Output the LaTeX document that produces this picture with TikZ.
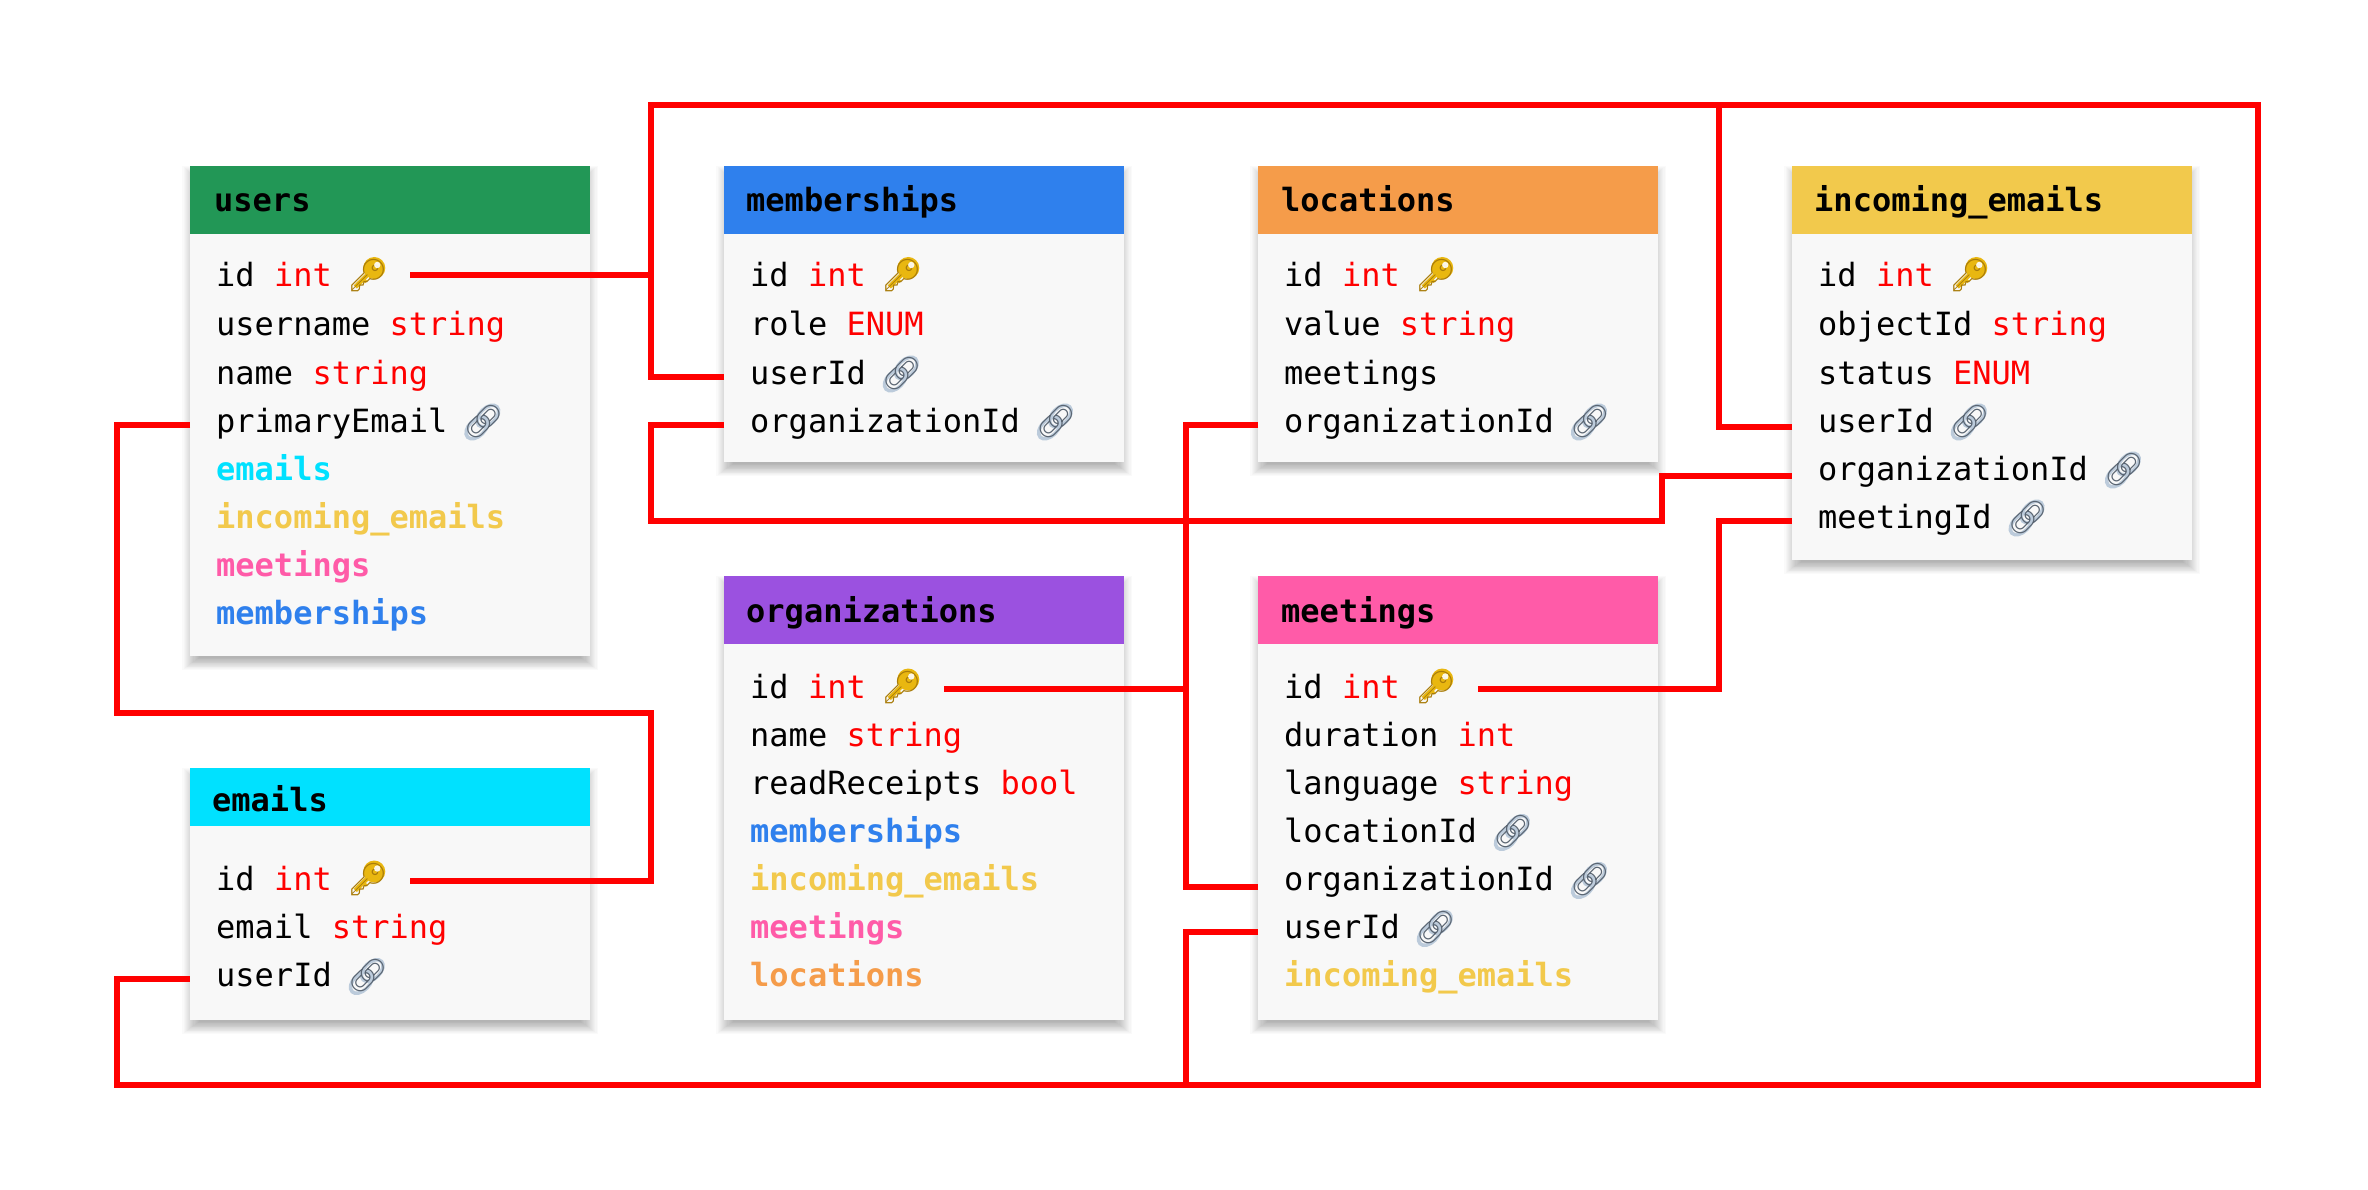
\documentclass[tikz,border=0pt]{standalone}
\usepackage{fontspec}
\setmainfont{DejaVu Sans Mono}
\newfontfamily\emojifont{Noto Emoji}
\usetikzlibrary{calc}
\definecolor{cusers}{HTML}{229756}
\definecolor{cmem}{HTML}{2F80ED}
\definecolor{cloc}{HTML}{F59C4A}
\definecolor{cinc}{HTML}{F2C94C}
\definecolor{corg}{HTML}{9B51E0}
\definecolor{cmeet}{HTML}{FF5BA8}
\definecolor{cem}{HTML}{00E1FF}
\definecolor{cbody}{HTML}{F8F8F8}
\definecolor{ckey}{HTML}{E9B710}
\definecolor{ckeyd}{HTML}{A97C0A}
\definecolor{clink}{HTML}{5A6572}
\definecolor{clinkl}{HTML}{BCCBDB}
\newcommand{\ty}[1]{\textcolor{red}{#1}}
\newcommand{\keysp}{\rule{33pt}{0pt}}
\newcommand{\linksp}{\rule{32pt}{0pt}}
\newcommand{\rel}[2]{\textcolor{#1}{\bfseries #2}}
\newcommand{\shadowbox}[4]{% x1 y1 x2 y2
  \foreach \g in {1,...,16}{
    \fill[black,opacity=.018] (#1+10-\g*1.1,#2+16-\g) rectangle (#3-10+\g*1.1,#4+1+\g*0.8);
  }
}
\tikzset{
  x=1pt,y=-1pt,
  rowtext/.style={anchor=base west,inner xsep=26pt,inner ysep=0pt,text height=32pt,text depth=8pt,font=\fontsize{32}{32}\selectfont},
  rh/.style={text height=#1pt},
  headtext/.style={anchor=base west,inner xsep=24pt,inner ysep=0pt,font=\fontsize{32}{32}\selectfont\bfseries},
  bodybox/.style={fill=cbody,draw=none,anchor=north west,inner sep=0pt,minimum width=400pt},
  headbox/.style={draw=none,anchor=north west,inner sep=0pt,minimum width=400pt},
  conn/.style={draw=red,line width=6pt,line join=miter,line cap=butt},
  keyicon/.pic={
    \draw[ckey,line width=4.5pt] (23,-19) -- (4,0);
    \draw[ckey,line width=3pt] (6,-5) -- (9,-2) (12,-8) -- (15,-5);
    \fill[ckey] (23,-19) circle (11);
    \node[inner sep=0pt,anchor=base west,text=ckeyd,font=\fontsize{32}{32}\selectfont\emojifont] (-g) at (-4,0) {🔑};
    \fill[white,opacity=.9] (26,-22) circle (3.2);
  },
  linkicon/.pic={
    \draw[clinkl,line width=3.5pt,shift={(10,-4)},rotate=45] (0,0) ellipse (13 and 8);
    \draw[clinkl,line width=3.5pt,shift={(21,-16)},rotate=45] (0,0) ellipse (13 and 8);
    \node[inner sep=0pt,anchor=base west,text=clink,font=\fontsize{32}{32}\selectfont\emojifont] (-g) at (-4,0) {🔗};
  },
}
\begin{document}
\begin{tikzpicture}
\useasboundingbox (0,0) rectangle (2368,1190);
\fill[white] (0,0) rectangle (2368,1190);
% shadows
\shadowbox{190}{166}{590}{656}
\shadowbox{724}{166}{1124}{462}
\shadowbox{1258}{166}{1658}{462}
\shadowbox{1792}{166}{2192}{560}
\shadowbox{724}{576}{1124}{1020}
\shadowbox{1258}{576}{1658}{1020}
\shadowbox{190}{768}{590}{1020}
% bodies and headers
\node[bodybox,minimum height=490pt] (usersBody) at (190,166) {};
\node[headbox,fill=cusers,minimum height=68pt] (usersHead) at (190,166) {};
\node[bodybox,minimum height=296pt] (memBody) at (724,166) {};
\node[headbox,fill=cmem,minimum height=68pt] (memHead) at (724,166) {};
\node[bodybox,minimum height=296pt] (locBody) at (1258,166) {};
\node[headbox,fill=cloc,minimum height=68pt] (locHead) at (1258,166) {};
\node[bodybox,minimum height=394pt] (incBody) at (1792,166) {};
\node[headbox,fill=cinc,minimum height=68pt] (incHead) at (1792,166) {};
\node[bodybox,minimum height=444pt] (orgBody) at (724,576) {};
\node[headbox,fill=corg,minimum height=68pt] (orgHead) at (724,576) {};
\node[bodybox,minimum height=444pt] (meetBody) at (1258,576) {};
\node[headbox,fill=cmeet,minimum height=68pt] (meetHead) at (1258,576) {};
\node[bodybox,minimum height=252pt] (emBody) at (190,768) {};
\node[headbox,fill=cem,minimum height=58pt] (emHead) at (190,768) {};
% titles
\node[headtext] (tUsers) at (190,212) {users};
\node[headtext] (tMem) at (722,212) {memberships};
\node[headtext] (tLoc) at (1257,212) {locations};
\node[headtext] (tInc) at (1790,212) {incoming\_emails};
\node[headtext] (tOrg) at (722,622) {organizations};
\node[headtext] (tMeet) at (1257,622) {meetings};
\node[headtext] (tEm) at (188,811) {emails};
% users rows
\node[rowtext] (uid) at (190,287) {id \ty{int} \keysp};
\node[rowtext] (uname) at (190,335) {username \ty{string}};
\node[rowtext] (uname2) at (190,384) {name \ty{string}};
\node[rowtext,rh=22] (umail) at (190,432) {primaryEmail \linksp};
\node[rowtext] (ur1) at (190,480) {\rel{cem}{emails}};
\node[rowtext] (ur2) at (190,528) {\rel{cinc}{incoming\_emails}};
\node[rowtext] (ur3) at (190,576) {\rel{cmeet}{meetings}};
\node[rowtext] (ur4) at (190,624) {\rel{cmem}{memberships}};
% memberships rows
\node[rowtext] (mid) at (724,287) {id \ty{int} \keysp};
\node[rowtext] (mrole) at (724,335) {role \ty{ENUM}};
\node[rowtext,rh=22] (muser) at (724,384) {userId \linksp};
\node[rowtext,rh=22] (morg) at (724,432) {organizationId \linksp};
% locations rows
\node[rowtext] (lid) at (1258,287) {id \ty{int} \keysp};
\node[rowtext] (lval) at (1258,335) {value \ty{string}};
\node[rowtext] (lmeet) at (1258,384) {meetings};
\node[rowtext,rh=22] (lorg) at (1258,432) {organizationId \linksp};
% incoming rows
\node[rowtext] (iid) at (1792,287) {id \ty{int} \keysp};
\node[rowtext] (iobj) at (1792,335) {objectId \ty{string}};
\node[rowtext] (istat) at (1792,384) {status \ty{ENUM}};
\node[rowtext,rh=18] (iuser) at (1792,432) {userId \linksp};
\node[rowtext,rh=16] (iorg) at (1792,480) {organizationId \linksp};
\node[rowtext,rh=22] (imeet) at (1792,528) {meetingId \linksp};
% organizations rows
\node[rowtext,rh=28] (oid) at (724,698.5) {id \ty{int} \keysp};
\node[rowtext] (oname) at (724,746.5) {name \ty{string}};
\node[rowtext] (oread) at (724,794.5) {readReceipts \ty{bool}};
\node[rowtext] (or1) at (724,842.5) {\rel{cmem}{memberships}};
\node[rowtext] (or2) at (724,890.5) {\rel{cinc}{incoming\_emails}};
\node[rowtext] (or3) at (724,938.5) {\rel{cmeet}{meetings}};
\node[rowtext] (or4) at (724,986.5) {\rel{cloc}{locations}};
% meetings rows
\node[rowtext,rh=28] (eid) at (1258,698.5) {id \ty{int} \keysp};
\node[rowtext] (edur) at (1258,746.5) {duration \ty{int}};
\node[rowtext] (elang) at (1258,794.5) {language \ty{string}};
\node[rowtext] (eloc) at (1258,842.5) {locationId \linksp};
\node[rowtext,rh=16] (eorg) at (1258,890.5) {organizationId \linksp};
\node[rowtext,rh=21] (euser) at (1258,938.5) {userId \linksp};
\node[rowtext] (er1) at (1258,986.5) {\rel{cinc}{incoming\_emails}};
% emails rows
\node[rowtext,rh=27] (aid) at (190,890.5) {id \ty{int} \keysp};
\node[rowtext] (amail) at (190,938.5) {email \ty{string}};
\node[rowtext,rh=24] (auser) at (190,986.5) {userId \linksp};
% emoji
\foreach \n in {uid,mid,lid,iid,oid,eid,aid}{
  \pic (\n-k) at ($(\n.base east)+(-59,0)$) {keyicon};
}
\foreach \n in {umail,muser,morg,lorg,iuser,iorg,imeet,eloc,eorg,euser,auser}{
  \pic (\n-l) at ($(\n.base east)+(-58,0)$) {linkicon};
}
% routing coordinates
\coordinate (busL) at (651,0);
\coordinate (busT) at (0,105);
\coordinate (busR) at (2258,0);
\coordinate (busB) at (0,1085);
\coordinate (busM) at (1186,0);
\coordinate (busI) at (1719,0);
\coordinate (busW) at (117,0);
\coordinate (busJ) at (1662,0);
\coordinate (busK) at (0,521);
\coordinate (busN) at (0,713);
% connectors
\draw[conn] (uid.east) -- (uid.east -| busL);
\draw[conn] (muser.west) -| (busL |- busT) -- (busR |- busT) |- (busW |- busB) |- (auser.west);
\draw[conn] (euser.west) -| (busM |- busB);
\draw[conn] (iuser.west) -| (busI |- busT);
\draw[conn] (umail.west) -| (busW |- busN) -- (busL |- busN) |- (aid.east);
\draw[conn] (morg.west) -| (busL |- busK) -- (busJ |- busK) |- (iorg.west);
\draw[conn] (lorg.west) -| (busM |- eorg.west) -- (eorg.west);
\draw[conn] (oid.east) -- (oid.east -| busM);
\draw[conn] (eid.east) -| (busI |- imeet.west) -- (imeet.west);
\end{tikzpicture}
\end{document}
